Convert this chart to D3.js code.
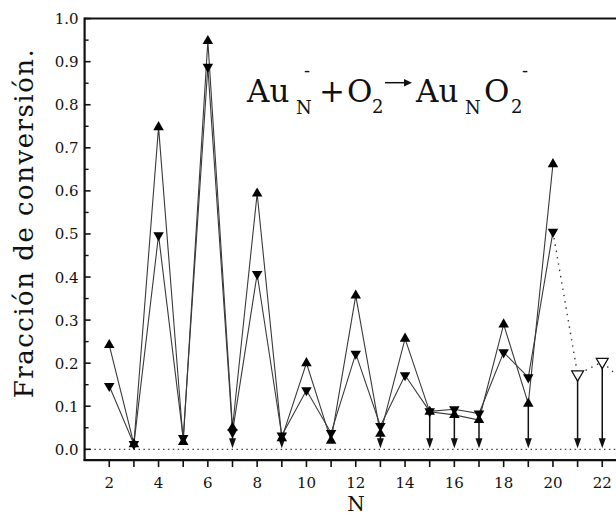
<!DOCTYPE html>
<html>
<head>
<meta charset="utf-8">
<script src="https://cdn.jsdelivr.net/npm/d3@7"></script>
<style>
  html, body { margin: 0; padding: 0; background: #fff; }
  svg { display: block; }
  svg text { font-family: "DejaVu Serif", "Liberation Serif", serif; }
</style>
</head>
<body>
<script>
// Cluster sizes and measured conversion fractions
const sizes = [2, 3, 4, 5, 6, 7, 8, 9, 10, 11, 12, 13, 14, 15, 16, 17, 18, 19, 20];
const upValues   = [0.242, 0.012, 0.748, 0.017, 0.948, 0.050, 0.594, 0.026, 0.200, 0.020, 0.357, 0.036, 0.257, 0.087, 0.080, 0.068, 0.290, 0.106, 0.662];
const downValues = [0.147, 0.012, 0.497, 0.026, 0.888, 0.040, 0.407, 0.032, 0.137, 0.038, 0.222, 0.054, 0.172, 0.088, 0.093, 0.083, 0.225, 0.167, 0.505];

// Estimated values (open symbols), continuing from N = 20
const estSizes  = [20, 21, 22, 23];
const estValues = [0.505, 0.174, 0.203, 0.150];

// Sizes whose value is an upper limit (arrow down to zero)
const limitSizes = [7, 9, 13, 15, 16, 17, 19, 21, 22];

const yTicks = [0, 0.1, 0.2, 0.3, 0.4, 0.5, 0.6, 0.7, 0.8, 0.9, 1.0];
const xTicks = [2, 4, 6, 8, 10, 12, 14, 16, 18, 20, 22];

const W = 616, H = 518;
const svg = d3.select("body").append("svg").attr("width", W).attr("height", H)
  .attr("fill", "#111");

const x = d3.scaleLinear().domain([1, 23]).range([84.6, 84.6 + 22 * 24.65]);
const y = d3.scaleLinear().domain([0, 1]).range([449.3, 18.6]);
const yBottom = y(-0.025);
const xLeft = x(1);

// Dotted zero line
svg.append("line")
  .attr("x1", xLeft).attr("x2", W)
  .attr("y1", y(0)).attr("y2", y(0))
  .attr("stroke", "#444").attr("stroke-width", 1.3)
  .attr("stroke-dasharray", "1.5,3.4");

// Frame: left axis, top line, bottom axis
svg.append("line").attr("x1", xLeft).attr("x2", xLeft)
  .attr("y1", y(1) - 1).attr("y2", yBottom + 1)
  .attr("stroke", "#111").attr("stroke-width", 2.2);
svg.append("line").attr("x1", xLeft).attr("x2", W)
  .attr("y1", y(1)).attr("y2", y(1))
  .attr("stroke", "#111").attr("stroke-width", 2);
svg.append("line").attr("x1", xLeft - 1).attr("x2", W)
  .attr("y1", yBottom).attr("y2", yBottom)
  .attr("stroke", "#111").attr("stroke-width", 2.2);

// Y ticks (inward), major and minor
const yMinor = d3.range(0.05, 1.0, 0.1);
svg.append("g").selectAll("line").data(yTicks).join("line")
  .attr("x1", xLeft).attr("x2", xLeft + 6)
  .attr("y1", d => y(d)).attr("y2", d => y(d))
  .attr("stroke", "#111").attr("stroke-width", 1.6);
svg.append("g").selectAll("line").data(yMinor).join("line")
  .attr("x1", xLeft).attr("x2", xLeft + 4)
  .attr("y1", d => y(d)).attr("y2", d => y(d))
  .attr("stroke", "#111").attr("stroke-width", 1.4);
svg.append("g").selectAll("text").data(yTicks).join("text")
  .attr("x", xLeft - 6).attr("y", d => y(d) + 5.5)
  .attr("text-anchor", "end").attr("font-size", 15)
  .text(d => d3.format(".1f")(d));

// X ticks (outward), every integer
const xAll = d3.range(2, 23);
svg.append("g").selectAll("line").data(xAll).join("line")
  .attr("x1", d => x(d)).attr("x2", d => x(d))
  .attr("y1", yBottom).attr("y2", yBottom + 7)
  .attr("stroke", "#111").attr("stroke-width", 1.6);
svg.append("g").selectAll("text").data(xTicks).join("text")
  .attr("x", d => x(d)).attr("y", 488)
  .attr("text-anchor", "middle").attr("font-size", 15)
  .text(d => d);

// Axis titles
svg.append("text").attr("x", 356).attr("y", 511)
  .attr("text-anchor", "middle").attr("font-size", 20).text("N");
svg.append("text")
  .attr("transform", "translate(33,223) rotate(-90)")
  .attr("text-anchor", "middle").attr("font-size", 26)
  .attr("letter-spacing", 1.5)
  .text("Fracción de conversión.");

// Connecting lines
const upPts = sizes.map((n, i) => [n, upValues[i]]);
const downPts = sizes.map((n, i) => [n, downValues[i]]);
const line = d3.line().x(d => x(d[0])).y(d => y(d[1]));
svg.append("path").attr("d", line(upPts))
  .attr("fill", "none").attr("stroke", "#3a3a3a").attr("stroke-width", 1.1);
svg.append("path").attr("d", line(downPts))
  .attr("fill", "none").attr("stroke", "#3a3a3a").attr("stroke-width", 1.1);

const estPts = estSizes.map((n, i) => [n, estValues[i]]);
svg.append("path").attr("d", line(estPts))
  .attr("fill", "none").attr("stroke", "#333").attr("stroke-width", 1.4)
  .attr("stroke-dasharray", "1.4,5");

// Upper-limit arrows
const valueAt = n => {
  const i = sizes.indexOf(n);
  if (i >= 0) return Math.min(upValues[i], downValues[i]);
  return estValues[estSizes.indexOf(n)];
};
const arrows = svg.append("g");
limitSizes.forEach(n => {
  const cx = x(n), top = y(valueAt(n)), tip = y(0) - 1;
  arrows.append("line").attr("x1", cx).attr("x2", cx)
    .attr("y1", top).attr("y2", tip - 6)
    .attr("stroke", "#111").attr("stroke-width", 1.5);
  arrows.append("path")
    .attr("d", `M${cx - 3.5},${tip - 10}L${cx + 3.5},${tip - 10}L${cx},${tip}Z`)
    .attr("fill", "#111");
});

// Markers
const tri = d3.symbol().type(d3.symbolTriangle).size(48);
svg.append("g").selectAll("path").data(upPts).join("path")
  .attr("d", tri)
  .attr("transform", d => `translate(${x(d[0])},${y(d[1])})`)
  .attr("fill", "#000");
svg.append("g").selectAll("path").data(downPts).join("path")
  .attr("d", tri)
  .attr("transform", d => `translate(${x(d[0])},${y(d[1])}) rotate(180)`)
  .attr("fill", "#000");
svg.append("g").selectAll("path").data(estPts.slice(1)).join("path")
  .attr("d", d3.symbol().type(d3.symbolTriangle).size(60))
  .attr("transform", d => `translate(${x(d[0])},${y(d[1])}) rotate(180)`)
  .attr("fill", "#fff").attr("stroke", "#111").attr("stroke-width", 1.3);

// Reaction label
const eq = svg.append("g");
const big = 31, small = 18;
eq.append("text").attr("x", 247).attr("y", 102).attr("font-size", big).text("Au");
eq.append("text").attr("x", 296).attr("y", 114).attr("font-size", small).text("N");
eq.append("text").attr("x", 304).attr("y", 77).attr("font-size", small).text("-");
eq.append("text").attr("x", 319).attr("y", 102).attr("font-size", big).text("+");
eq.append("text").attr("x", 347).attr("y", 102).attr("font-size", big).text("O");
eq.append("text").attr("x", 372).attr("y", 113).attr("font-size", small).text("2");
eq.append("line").attr("x1", 385).attr("x2", 406).attr("y1", 82.7).attr("y2", 82.7)
  .attr("stroke", "#111").attr("stroke-width", 1.5);
eq.append("path").attr("d", "M404,79L412,82.7L404,86.4Z").attr("fill", "#111");
eq.append("text").attr("x", 416).attr("y", 102).attr("font-size", big).text("Au");
eq.append("text").attr("x", 465).attr("y", 114).attr("font-size", small).text("N");
eq.append("text").attr("x", 484).attr("y", 102).attr("font-size", big).text("O");
eq.append("text").attr("x", 511).attr("y", 113).attr("font-size", small).text("2");
eq.append("text").attr("x", 522).attr("y", 77).attr("font-size", small).text("-");
</script>
</body>
</html>
